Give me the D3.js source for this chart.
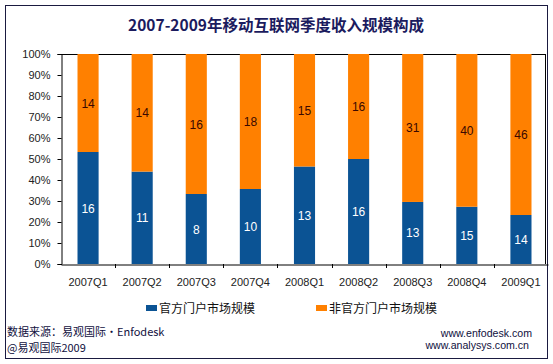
<!DOCTYPE html>
<html><head><meta charset="utf-8">
<script src="https://cdn.jsdelivr.net/npm/d3@7"></script>
<style>body{margin:0;background:#fff}svg{display:block}</style>
</head><body>
<script>
const categories = ["2007Q1","2007Q2","2007Q3","2007Q4","2008Q1","2008Q2","2008Q3","2008Q4","2009Q1"];
const officialValues = [16,11,8,10,13,16,13,15,14];
const unofficialValues = [14,14,16,18,15,16,31,40,46];
const seriesNames = ["官方门户市场规模","非官方门户市场规模"];
const yTicks = [0,0.1,0.2,0.3,0.4,0.5,0.6,0.7,0.8,0.9,1.0];
const title = "2007-2009年移动互联网季度收入规模构成";

const W=553,H=364;
const svg=d3.select("body").append("svg").attr("width",W).attr("height",H);
const blue="#0b5394", orange="#ff8000";
const latin="'Liberation Sans', Arial, sans-serif";
const cjk="'Noto Sans CJK SC', 'Liberation Sans', sans-serif";

// frame
svg.append("rect").attr("x",5.5).attr("y",5.5).attr("width",542).attr("height",353)
  .attr("fill","none").attr("stroke","#1a1a40").attr("stroke-width",1);

svg.append("text").attr("x",276).attr("y",31).attr("text-anchor","middle")
  .attr("font-family",cjk).attr("font-weight","bold").attr("font-size",15.5)
  .attr("fill","#1b1b5e").text(title);

const x=d3.scaleBand().domain(categories).range([61,548]).paddingInner(0.61).paddingOuter(0.305);
const y=d3.scaleLinear().domain([0,1]).range([264,54]);

const data=categories.map((c,i)=>{const t=officialValues[i]+unofficialValues[i];
  return {c,a:officialValues[i],b:unofficialValues[i],pa:officialValues[i]/t};});

// plot border top/right
svg.append("line").attr("x1",61).attr("x2",545.5).attr("y1",54.5).attr("y2",54.5).attr("stroke","#000");
svg.append("line").attr("x1",545.5).attr("x2",545.5).attr("y1",54).attr("y2",264).attr("stroke","#000");

const g=svg.append("g");
g.selectAll(".b").data(data).join("rect")
  .attr("x",d=>x(d.c)).attr("width",x.bandwidth())
  .attr("y",d=>y(d.pa)).attr("height",d=>y(0)-y(d.pa)).attr("fill",blue);
g.selectAll(".o").data(data).join("rect")
  .attr("x",d=>x(d.c)).attr("width",x.bandwidth())
  .attr("y",y(1)).attr("height",d=>y(d.pa)-y(1)).attr("fill",orange);

g.selectAll(".la").data(data).join("text")
  .attr("x",d=>x(d.c)+x.bandwidth()/2).attr("y",d=>(y(d.pa)+y(0))/2+4.5)
  .attr("text-anchor","middle").attr("font-family",latin).attr("font-size",12)
  .attr("fill","#fff").text(d=>d.a);
g.selectAll(".lb").data(data).join("text")
  .attr("x",d=>x(d.c)+x.bandwidth()/2).attr("y",d=>(y(d.pa)+y(1))/2+4.5)
  .attr("text-anchor","middle").attr("font-family",latin).attr("font-size",12)
  .attr("fill","#3a0800").text(d=>d.b);

// y axis
const ya=svg.append("g").attr("transform","translate(61.5,0)")
  .call(d3.axisLeft(y).tickValues(yTicks).tickFormat(d3.format(".0%")).tickSize(4).tickPadding(7));
ya.select(".domain").attr("stroke","#000");
ya.selectAll("line").attr("stroke","#000");
ya.selectAll("text").attr("font-family",latin).attr("font-size",11).attr("fill","#222");

// x axis
const xa=svg.append("g").attr("transform","translate(0,264.5)")
  .call(d3.axisBottom(x).tickSize(0).tickPadding(14));
xa.select(".domain").attr("stroke","#000");
xa.selectAll("text").attr("font-family",latin).attr("font-size",11).attr("fill","#222");
// separators between categories
const seps=categories.slice(1).map((c,i)=>x(c)-x.step()*x.paddingInner()/2);
svg.append("g").selectAll("line").data(seps).join("line")
  .attr("x1",d=>Math.round(d)+0.5).attr("x2",d=>Math.round(d)+0.5)
  .attr("y1",264).attr("y2",268).attr("stroke","#000");

// legend
const leg=[{n:seriesNames[0],c:blue,x:146},{n:seriesNames[1],c:orange,x:316}];
const lg=svg.append("g").selectAll("g").data(leg).join("g");
lg.append("rect").attr("x",d=>d.x).attr("y",305).attr("width",11).attr("height",6).attr("fill",d=>d.c);
lg.append("text").attr("x",d=>d.x+13).attr("y",313).attr("font-family",cjk).attr("font-size",12)
  .attr("fill","#111").text(d=>d.n);

// footer
svg.append("text").attr("x",7).attr("y",336).attr("font-family",cjk).attr("font-size",11)
  .attr("fill","#101040").text("数据来源：易观国际·Enfodesk");
svg.append("text").attr("x",7).attr("y",352).attr("font-family",cjk).attr("font-size",11)
  .attr("fill","#101040").text("@易观国际2009");
svg.append("text").attr("x",532).attr("y",337).attr("text-anchor","end").attr("font-family",latin)
  .attr("font-size",10.6).attr("fill","#101040").text("www.enfodesk.com");
svg.append("text").attr("x",529).attr("y",349).attr("text-anchor","end").attr("font-family",latin)
  .attr("font-size",10.6).attr("fill","#101040").text("www.analysys.com.cn");
</script>
</body></html>
